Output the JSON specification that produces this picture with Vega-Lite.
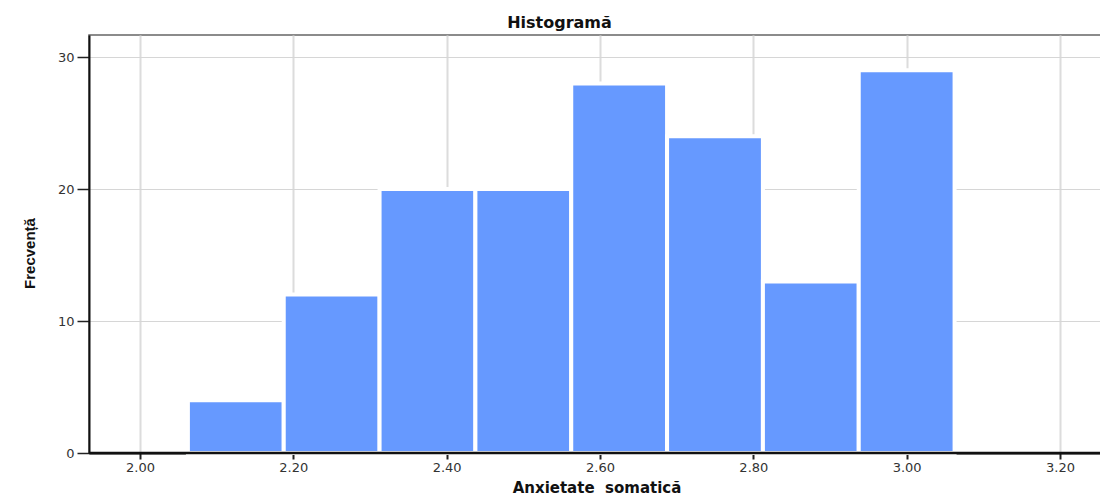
{
  "$schema": "https://vega.github.io/schema/vega-lite/v6.json",
  "autosize": "none",
  "width": 1015,
  "height": 418,
  "padding": {"left": 89, "top": 35, "right": 0, "bottom": 45},
  "background": "white",
  "title": {
    "text": "Histogramă",
    "font": "DejaVu Sans",
    "fontSize": 16,
    "fontWeight": "bold",
    "color": "#111",
    "dx": -37,
    "offset": 4
  },
  "view": {"stroke": "#666", "strokeWidth": 1.5},
  "data": {
    "values": [
      {"bin_start": 2.0625, "bin_end": 2.1875, "count": 4},
      {"bin_start": 2.1875, "bin_end": 2.3125, "count": 12},
      {"bin_start": 2.3125, "bin_end": 2.4375, "count": 20},
      {"bin_start": 2.4375, "bin_end": 2.5625, "count": 20},
      {"bin_start": 2.5625, "bin_end": 2.6875, "count": 28},
      {"bin_start": 2.6875, "bin_end": 2.8125, "count": 24},
      {"bin_start": 2.8125, "bin_end": 2.9375, "count": 13},
      {"bin_start": 2.9375, "bin_end": 3.0625, "count": 29}
    ]
  },
  "layer": [
    {
      "mark": {"type": "rect", "color": "#6699ff", "stroke": "white", "strokeWidth": 4},
      "encoding": {
        "x": {
          "field": "bin_start",
          "type": "quantitative",
          "scale": {"domain": [1.9335, 3.2574], "nice": false, "zero": false},
          "axis": {
            "title": "Anxietate\u00a0 somatică",
            "titleFont": "DejaVu Sans",
            "titleFontSize": 15,
            "titleFontWeight": "bold",
            "titleColor": "#111",
            "titlePadding": 6,
            "values": [2.0, 2.2, 2.4, 2.6, 2.8, 3.0, 3.2],
            "format": ".2f",
            "labelFont": "DejaVu Sans",
            "labelFontSize": 13,
            "labelColor": "#333",
            "labelPadding": 2,
            "tickSize": 6,
            "tickColor": "#222",
            "tickWidth": 2,
            "domainColor": "#111",
            "domainWidth": 2,
            "grid": true,
            "gridColor": "#dcdcdc",
            "gridWidth": 2
          }
        },
        "x2": {"field": "bin_end"},
        "y": {
          "field": "count",
          "type": "quantitative",
          "scale": {"domain": [0, 31.67], "nice": false},
          "axis": {
            "title": "Frecvență",
            "titleFont": "Liberation Sans",
            "titleFontSize": 15,
            "titleFontWeight": "bold",
            "titleColor": "#111",
            "titlePadding": 20,
            "titleY": 218,
            "values": [0, 10, 20, 30],
            "labelFont": "DejaVu Sans",
            "labelFontSize": 13,
            "labelColor": "#333",
            "labelPadding": 3,
            "tickSize": 12,
            "tickColor": "#222",
            "tickWidth": 1.5,
            "domainColor": "#111",
            "domainWidth": 2,
            "grid": true,
            "gridColor": "#d6d6d6",
            "gridWidth": 1.2
          }
        },
        "y2": {"datum": 0}
      }
    },
    {
      "data": {"values": [{"base": 0}]},
      "mark": {"type": "rule", "color": "#111111", "strokeWidth": 2.5},
      "encoding": {
        "y": {"field": "base", "type": "quantitative"}
      }
    }
  ]
}
